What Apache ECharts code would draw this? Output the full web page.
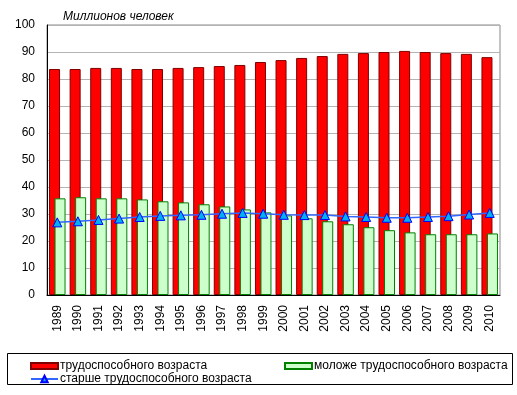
<!DOCTYPE html>
<html>
<head>
<meta charset="utf-8">
<script src="https://cdn.jsdelivr.net/npm/echarts@6/dist/echarts.min.js"></script>
<style>html,body{margin:0;padding:0;background:#fff;}#c{width:517px;height:395px;}</style>
</head>
<body>
<div id="c"></div>
<script>
var years = ['1989','1990','1991','1992','1993','1994','1995','1996','1997','1998','1999','2000','2001','2002','2003','2004','2005','2006','2007','2008','2009','2010'];
var workingAge = [83.7,83.7,84.1,84.1,83.7,83.7,84.1,84.4,84.8,85.2,86.3,87.0,87.8,88.5,89.3,89.6,90.0,90.4,90.0,89.6,89.3,88.1];
var belowWorkingAge = [35.8,36.2,35.8,35.8,35.4,34.7,34.3,33.6,32.8,31.7,30.6,29.5,28.4,27.3,26.2,25.1,24.0,23.2,22.5,22.5,22.5,22.8];
var aboveWorkingAge = [26.9,27.3,27.8,28.3,28.9,29.3,29.5,29.7,30.1,30.4,30.1,29.7,29.6,29.6,29.1,28.9,28.6,28.6,28.9,29.2,29.8,30.4];
var yTicks = [0,10,20,30,40,50,60,70,80,90,100];
var names = ['трудоспособного возраста','моложе трудоспособного возраста','старше трудоспособного возраста'];
var unitTitle = 'Миллионов человек';

var chart = echarts.init(document.getElementById('c'), null, {renderer:'canvas'});
var font = '"Liberation Sans", Arial, sans-serif';
var legendBase = {
  orient: 'horizontal', itemWidth: 27, itemHeight: 6, itemGap: 0, padding: 0,
  textStyle: {fontFamily: font, fontSize: 12, color: '#000', padding: [0,0,0,-3]},
  selectedMode: false
};
chart.setOption({
  animation: false,
  backgroundColor: '#fff',
  textStyle: {fontFamily: font},
  title: {
    text: unitTitle, left: 58, top: 6,
    textStyle: {fontFamily: font, fontSize: 12, fontStyle: 'italic', fontWeight: 'normal', color: '#000'}
  },
  grid: {left: 47, right: 17, top: 25, bottom: 100, show: true, borderColor: '#888', borderWidth: 1, backgroundColor: 'transparent'},
  xAxis: {
    type: 'category', data: years,
    axisLine: {show: true, lineStyle: {color: '#000', width: 1}},
    axisTick: {show: false},
    axisLabel: {rotate: 90, margin: 10, fontSize: 12, color: '#000', fontFamily: font, interval: 0}
  },
  yAxis: {
    type: 'value', min: yTicks[0], max: yTicks[yTicks.length-1], interval: yTicks[1]-yTicks[0],
    axisLine: {show: true, lineStyle: {color: '#000', width: 1}},
    axisTick: {show: false},
    axisLabel: {margin: 12, fontSize: 12, color: '#000', fontFamily: font},
    splitLine: {show: true, lineStyle: {color: '#b4b4b4', width: 1}}
  },
  legend: [
    Object.assign({}, legendBase, {left: 30, top: 360, icon: 'rect', data: [names[0]]}),
    Object.assign({}, legendBase, {left: 284, top: 360, icon: 'rect', data: [names[1]]}),
    Object.assign({}, legendBase, {left: 30, top: 373, data: [names[2]], itemHeight: 8})
  ],
  graphic: [{
    type: 'rect', shape: {x: 7.5, y: 353.5, width: 505, height: 31},
    style: {fill: 'none', stroke: '#000', lineWidth: 1}, silent: true
  }],
  series: [
    {
      name: names[0], type: 'bar', data: workingAge, barWidth: 11, barGap: '-50%',
      itemStyle: {color: '#ff0000', borderColor: '#800000', borderWidth: 1}
    },
    {
      name: names[1], type: 'bar', data: belowWorkingAge, barWidth: 11,
      itemStyle: {color: '#ccffcc', borderColor: '#008000', borderWidth: 1}
    },
    {
      name: names[2], type: 'line', data: aboveWorkingAge,
      symbol: 'triangle', symbolSize: 9, showSymbol: true,
      lineStyle: {color: '#3366ff', width: 1.5},
      itemStyle: {color: '#00b0f0', borderColor: '#0000ff', borderWidth: 1},
      z: 5
    }
  ]
});
</script>
</body>
</html>
